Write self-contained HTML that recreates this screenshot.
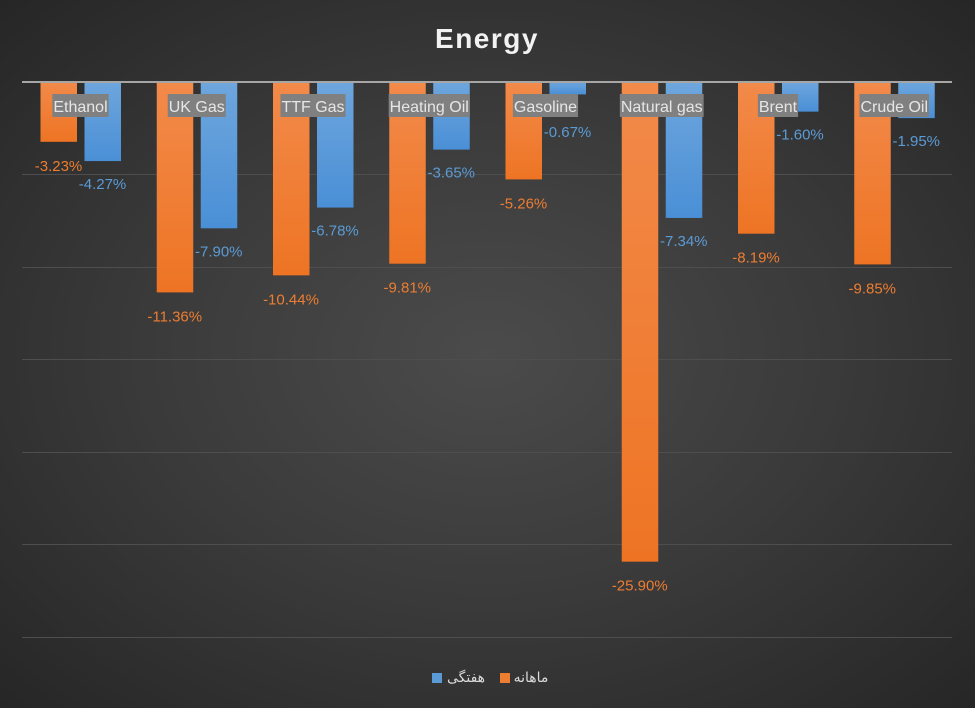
<!DOCTYPE html>
<html><head><meta charset="utf-8"><style>
html,body{margin:0;width:975px;height:708px;overflow:hidden;}
body{background:radial-gradient(ellipse at 50% 50%,#4b4b4b 0%,#3a3a3a 50%,#262626 100%);font-family:"Liberation Sans","DejaVu Sans",sans-serif;}
svg{display:block}
</style></head><body>
<svg width="975" height="708" xmlns="http://www.w3.org/2000/svg">
<defs>
<linearGradient id="o" x1="0" y1="0" x2="0" y2="1"><stop offset="0" stop-color="#f28a4a"/><stop offset="1" stop-color="#ee7424"/></linearGradient>
<linearGradient id="b" x1="0" y1="0" x2="0" y2="1"><stop offset="0" stop-color="#6ea6dd"/><stop offset="1" stop-color="#4a8fd6"/></linearGradient>
</defs>
<text x="487" y="48" text-anchor="middle" font-size="28" font-weight="bold" fill="#f2f2f2" letter-spacing="1.5">Energy</text>
<g stroke="#4e4e4e" stroke-width="1">
<line x1="22" x2="952" y1="174.5" y2="174.5"/><line x1="22" x2="952" y1="267.5" y2="267.5"/>
<line x1="22" x2="952" y1="359.5" y2="359.5"/><line x1="22" x2="952" y1="452.5" y2="452.5"/>
<line x1="22" x2="952" y1="544.5" y2="544.5"/><line x1="22" x2="952" y1="637.5" y2="637.5"/>
</g>
<g id="bars"></g>
<line x1="22" x2="952" y1="82" y2="82" stroke="#a6a6a6" stroke-width="2"/>
<g id="labels"></g>
<rect x="432" y="673" width="10" height="10" fill="#5b9bd5"/>
<text x="466" y="682" text-anchor="middle" font-size="14" fill="#d9d9d9" font-family="'DejaVu Sans',sans-serif">هفتگی</text>
<rect x="500" y="673" width="10" height="10" fill="#ed7d31"/>
<text x="531" y="682" text-anchor="middle" font-size="14" fill="#d9d9d9" font-family="'DejaVu Sans',sans-serif">ماهانه</text>
</svg>
<script>
var d=[["Ethanol",-3.23,-4.27],["UK Gas",-11.36,-7.90],["TTF Gas",-10.44,-6.78],["Heating Oil",-9.81,-3.65],["Gasoline",-5.26,-0.67],["Natural gas",-25.90,-7.34],["Brent",-8.19,-1.60],["Crude Oil",-9.85,-1.95]];
var ns="http://www.w3.org/2000/svg",B=document.getElementById("bars"),L=document.getElementById("labels"),s=18.52,z=82;
function el(p,t,a,txt){var e=document.createElementNS(ns,t);for(var k in a)e.setAttribute(k,a[k]);if(txt)e.textContent=txt;p.appendChild(e);return e;}
d.forEach(function(r,i){var x0=22+i*116.25;
var ho=-r[1]*s,hb=-r[2]*s;
el(B,"rect",{x:x0+18.5,y:z,width:36.5,height:ho,fill:"url(#o)"});
el(B,"rect",{x:x0+62.5,y:z,width:36.5,height:hb,fill:"url(#b)"});
el(L,"text",{x:x0+36.5,y:Math.max(z+ho+29,137),"text-anchor":"middle","font-size":15,fill:"#ed7d31"},r[1].toFixed(2)+"%");
el(L,"text",{x:x0+80.5,y:Math.max(z+hb+28,137),"text-anchor":"middle","font-size":15,fill:"#5b9bd5"},r[2].toFixed(2)+"%");
var t=el(L,"text",{x:x0+58.5,y:112,"text-anchor":"middle","font-size":16,fill:"#e6e6e6"},r[0]);
var w=t.getComputedTextLength();
var bg=el(L,"rect",{x:x0+58.5-w/2-1,y:94,width:w+2,height:23,fill:"#808080"});
L.insertBefore(bg,t);
});
</script>
</body></html>
